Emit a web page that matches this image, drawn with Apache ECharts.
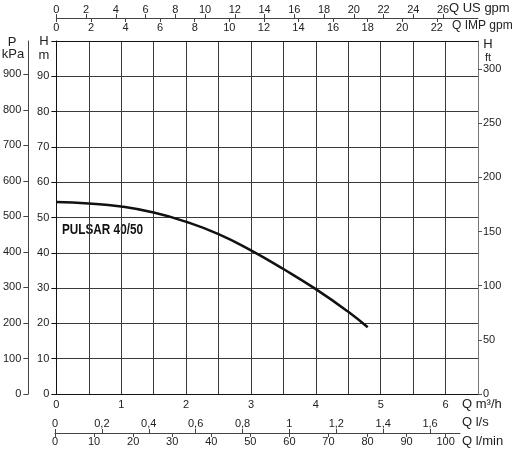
<!DOCTYPE html>
<html>
<head>
<meta charset="UTF-8">
<title>PULSAR 40/50</title>
<style type="text/css">
    html, body { margin: 0; padding: 0; background: #fff; }
    #mychart { width: 515px; height: 451px; }
</style>
</head>
<body>
<div id="mychart"></div>
<script src="https://cdn.jsdelivr.net/npm/echarts@6/dist/echarts.min.js"></script>
<script>
    // pump curve
    var flowM3h = [0, 0.5, 1, 1.5, 2, 2.5, 3, 3.5, 4, 4.5, 4.8];
    var headM = [54.4, 54.0, 53.1, 51.4, 48.8, 45.3, 40.7, 35.4, 29.7, 23.3, 18.9];

    // tick labels of the extra scales
    var usGpmTicks = [0, 2, 4, 6, 8, 10, 12, 14, 16, 18, 20, 22, 24, 26];
    var impGpmTicks = [0, 2, 4, 6, 8, 10, 12, 14, 16, 18, 20, 22];
    var lsTicks = [0, 0.2, 0.4, 0.6, 0.8, 1, 1.2, 1.4, 1.6];
    var lminTicks = [0, 10, 20, 30, 40, 50, 60, 70, 80, 90, 100];
    var kpaTicks = [0, 100, 200, 300, 400, 500, 600, 700, 800, 900];
    var ftTicks = [0, 50, 100, 150, 200, 250, 300];

    var qMax = 6.5;          // m3/h at right edge of plot
    var qMaxBottom = 6.22;   // bottom scale line stops earlier
    // scale factors as printed on the sheet (read from the tick spacing)
    var US = 4.362, IMP = 3.751, LS = 1 / 3.6, LMIN = 16.667;

    var font = 'Liberation Sans, Arial, sans-serif';
    var txt = '#222';
    var gridColor = '#3a3a3a';

    function comma(v) {
        if (Math.abs(v - Math.round(v)) < 1e-6) return String(Math.round(v));
        return v.toFixed(1).replace('.', ',');
    }

    var curve = [];
    for (var i = 0; i < flowM3h.length; i++) curve.push([flowM3h[i], headM[i]]);

    var lbl = { color: txt, fontSize: 11, fontFamily: font };

    var option = {
        backgroundColor: '#fff',
        animation: false,
        grid: [
            { left: 55, right: 37, top: 41, bottom: 57 },
            { left: 55, right: 55, top: 41, bottom: 57 }
        ],
        xAxis: [
            {   // Q m3/h, grid every 0.5
                type: 'value', gridIndex: 0, position: 'bottom',
                min: 0, max: qMax, interval: 0.5,
                axisLine: { onZero: false, lineStyle: { color: '#111', width: 1 } },
                axisTick: { show: false },
                axisLabel: Object.assign({ margin: 5,
                    formatter: function (v) { return Math.abs(v % 1) < 1e-6 ? String(Math.round(v)) : ''; } }, lbl),
                splitLine: { show: true, lineStyle: { color: gridColor, width: 1 } }
            },
            {   // top frame of the plot
                type: 'value', gridIndex: 0, position: 'top',
                min: 0, max: qMax,
                axisLine: { show: true, onZero: false, lineStyle: { color: '#111', width: 1 } },
                axisTick: { show: false }, axisLabel: { show: false }, splitLine: { show: false }
            },
            {   // Q US gpm
                type: 'value', gridIndex: 0, position: 'top', offset: 23,
                min: 0, max: qMax * US, interval: 2,
                axisLine: { show: true, onZero: false, lineStyle: { color: '#444' } },
                axisTick: { show: true, length: 4, lineStyle: { color: '#444' }, customValues: usGpmTicks },
                axisLabel: Object.assign({ margin: 3, customValues: usGpmTicks }, lbl),
                splitLine: { show: false }
            },
            {   // Q IMP gpm
                type: 'value', gridIndex: 0, position: 'top', offset: 23,
                min: 0, max: qMax * IMP, interval: 2,
                axisLine: { show: false, onZero: false },
                axisTick: { show: true, inside: true, length: 4, lineStyle: { color: '#444' }, customValues: impGpmTicks },
                axisLabel: Object.assign({ inside: true, margin: 4, customValues: impGpmTicks }, lbl),
                splitLine: { show: false }
            },
            {   // Q l/s
                type: 'value', gridIndex: 1, position: 'bottom', offset: 39,
                min: 0, max: qMaxBottom * LS, interval: 0.2,
                axisLine: { show: true, onZero: false, lineStyle: { color: '#444' } },
                axisTick: { show: true, inside: true, length: 4, lineStyle: { color: '#444' }, customValues: lsTicks },
                axisLabel: Object.assign({ inside: true, margin: 4, customValues: lsTicks, formatter: comma }, lbl),
                splitLine: { show: false }
            },
            {   // Q l/min
                type: 'value', gridIndex: 1, position: 'bottom', offset: 39,
                min: 0, max: qMaxBottom * LMIN, interval: 10,
                axisLine: { show: false, onZero: false },
                axisTick: { show: true, length: 4, lineStyle: { color: '#444' }, customValues: lminTicks },
                axisLabel: Object.assign({ margin: 3, customValues: lminTicks }, lbl),
                splitLine: { show: false }
            }
        ],
        yAxis: [
            {   // H m, grid every 10
                type: 'value', gridIndex: 0, position: 'left',
                min: 0, max: 100, interval: 10,
                axisLine: { show: true, onZero: false, lineStyle: { color: '#111' } },
                axisTick: { show: true, length: 5, lineStyle: { color: '#111' } },
                axisLabel: Object.assign({ margin: 7,
                    formatter: function (v) { return v >= 100 ? '' : String(v); } }, lbl),
                splitLine: { show: true, lineStyle: { color: gridColor, width: 1 } }
            },
            {   // P kPa
                type: 'value', gridIndex: 0, position: 'left', offset: 28,
                min: 0, max: 994, interval: 100,
                axisLine: { show: true, onZero: false, lineStyle: { color: '#444' } },
                axisTick: { show: true, length: 5, lineStyle: { color: '#444' }, customValues: kpaTicks },
                axisLabel: Object.assign({ margin: 7, customValues: kpaTicks }, lbl),
                splitLine: { show: false }
            },
            {   // H ft
                type: 'value', gridIndex: 0, position: 'right',
                min: 0, max: 326, interval: 50,
                axisLine: { show: true, onZero: false, lineStyle: { color: '#777' } },
                axisTick: { show: true, length: 4, lineStyle: { color: '#555' }, customValues: ftTicks },
                axisLabel: Object.assign({ margin: 5, customValues: ftTicks }, lbl),
                splitLine: { show: false }
            },
            { type: 'value', gridIndex: 1, show: false, min: 0, max: 100 }
        ],
        graphic: [
            { type: 'text', x: 12, y: 42, style: { text: 'P', fill: txt, font: '13px ' + font, textAlign: 'center', textVerticalAlign: 'middle' } },
            { type: 'text', x: 13, y: 54, style: { text: 'kPa', fill: txt, font: '13px ' + font, textAlign: 'center', textVerticalAlign: 'middle' } },
            { type: 'text', x: 44, y: 41, style: { text: 'H', fill: txt, font: '13px ' + font, textAlign: 'center', textVerticalAlign: 'middle' } },
            { type: 'text', x: 44, y: 55, style: { text: 'm', fill: txt, font: '13px ' + font, textAlign: 'center', textVerticalAlign: 'middle' } },
            { type: 'text', x: 488, y: 44, style: { text: 'H', fill: txt, font: '13px ' + font, textAlign: 'center', textVerticalAlign: 'middle' } },
            { type: 'text', x: 488, y: 58, style: { text: 'ft', fill: txt, font: '11px ' + font, textAlign: 'center', textVerticalAlign: 'middle' } },
            { type: 'text', x: 449, y: 8, style: { text: 'Q US gpm', fill: txt, font: '13px ' + font, textAlign: 'left', textVerticalAlign: 'middle' } },
            { type: 'text', x: 452, y: 26, style: { text: 'Q IMP gpm', fill: txt, font: '12px ' + font, textAlign: 'left', textVerticalAlign: 'middle' } },
            { type: 'text', x: 462, y: 404, style: { text: 'Q m³/h', fill: txt, font: '13px ' + font, textAlign: 'left', textVerticalAlign: 'middle' } },
            { type: 'text', x: 462, y: 422, style: { text: 'Q l/s', fill: txt, font: '13px ' + font, textAlign: 'left', textVerticalAlign: 'middle' } },
            { type: 'text', x: 462, y: 441, style: { text: 'Q l/min', fill: txt, font: '13px ' + font, textAlign: 'left', textVerticalAlign: 'middle' } },
            { type: 'text', x: 62, y: 230, scaleX: 0.84, style: { text: 'PULSAR 40/50', fill: '#111', font: 'bold 14px ' + font, textAlign: 'left', textVerticalAlign: 'middle' } }
        ],
        series: [
            {
                name: 'PULSAR 40/50',
                type: 'line',
                xAxisIndex: 0, yAxisIndex: 0,
                data: curve,
                smooth: true,
                showSymbol: false,
                lineStyle: { color: '#111', width: 2.5 }
            }
        ]
    };

    var mychart = echarts.init(document.getElementById('mychart'));
    mychart.setOption(option);
</script>
</body>
</html>
